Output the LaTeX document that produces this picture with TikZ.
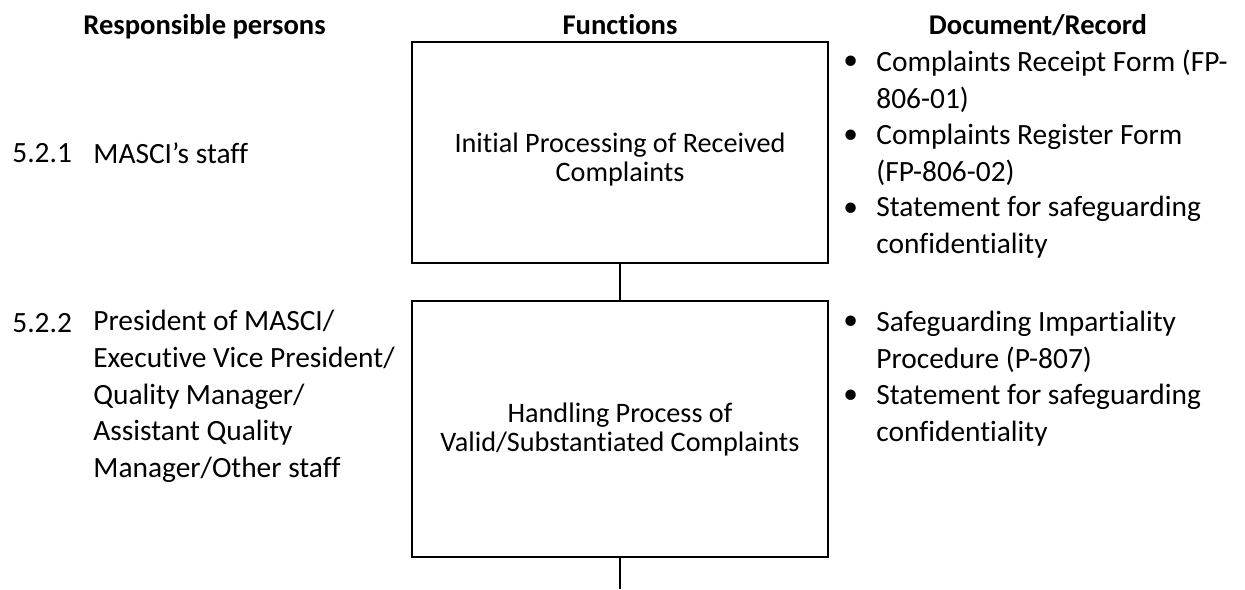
\documentclass[tikz,border=0pt]{standalone}
\usepackage{fontspec}
\setmainfont{Carlito}[Ligatures=NoCommon]
\tikzset{func box/.style = {%
  draw = black,
  line width = 1.3pt,
  inner sep = 0pt,
  minimum width = 208pt
 },
 func text/.style = {%
  inner sep = 0pt,
  align = center,
  font = \fontsize{14.1}{14.5}\selectfont
 },
 head text/.style = {%
  anchor = base,
  font = \fontsize{14.3}{16}\selectfont\bfseries
 },
 body text/.style = {%
  inner sep = 0pt,
  align = left,
  anchor = west,
  font = \fontsize{14.7}{18.35}\selectfont
 },
 link/.style = {%
  line width = 1.3pt
 }
}

\begin{document}
\begin{tikzpicture}[x=0.5pt,y=-0.5pt]
      \useasboundingbox (0,0) rectangle (1245,589);

      \node[head text] (hPers) at (204.5,34) {Responsible persons};
      \node[head text] (hFunc) at (620,34) {Functions};
      \node[head text] (hDoc) at (1038,34) {Document/Record};

      \node[func box, minimum height=110.5pt] (init) at (620,152.5) {};
      \node[func text] (initText) at (620,159) {Initial Processing of Received\\Complaints};
      \node[func box, minimum height=128pt] (valid) at (620,429) {};
      \node[func text] (validText) at (620,429) {Handling Process of\\Valid/Substantiated Complaints};
      \coordinate (next) at (620,589);

      \draw[link] (init.south) -- (valid.north);
      \draw[link] (valid.south) -- (next);

      \node[body text] (n1) at (12,153) {5.2.1};
      \node[body text] (p1) at (93,153) {MASCI’s staff};
      \node[body text] (n2) at (12,323) {5.2.2};
      \node[body text] (p2) at (93,396.5) {President of MASCI/\\Executive Vice President/\\Quality Manager/\\Assistant Quality\\Manager/Other staff};

      \node[body text] (b1) at (843,63) {\textbullet};
      \node[body text] (d1) at (876,81.5) {Complaints Receipt Form (FP-\\806-01)};
      \node[body text] (b2) at (843,137) {\textbullet};
      \node[body text] (d2) at (876,155) {Complaints Register Form\\(FP-806-02)};
      \node[body text] (b3) at (843,210) {\textbullet};
      \node[body text] (d3) at (876,227.5) {Statement for safeguarding\\confidentiality};

      \node[body text] (b4) at (843,323) {\textbullet};
      \node[body text] (d4) at (876,341.5) {Safeguarding Impartiality\\Procedure (P-807)};
      \node[body text] (b5) at (843,397) {\textbullet};
      \node[body text] (d5) at (876,415) {Statement for safeguarding\\confidentiality};
     \end{tikzpicture}
\end{document}
